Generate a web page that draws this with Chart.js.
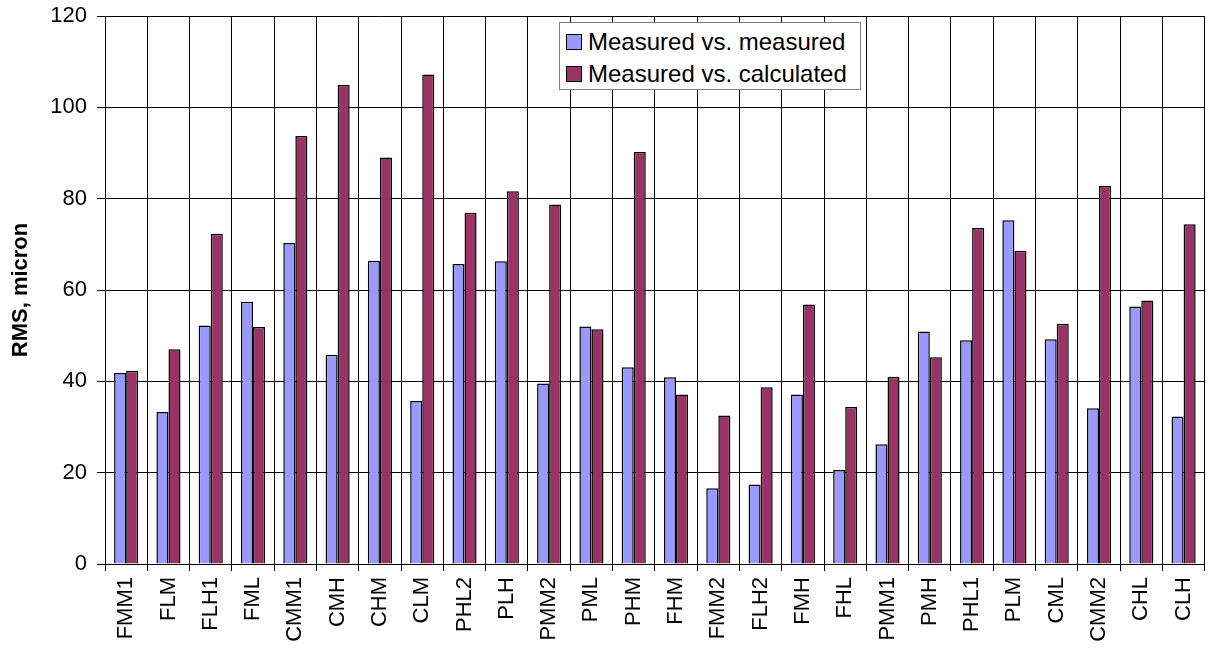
<!DOCTYPE html>
<html>
<head>
<meta charset="utf-8">
<script src="https://cdn.jsdelivr.net/npm/chart.js@4/dist/chart.umd.min.js"></script>
<style>
  html, body { margin: 0; padding: 0; background: #fff; }
  #wrap { position: relative; width: 1216px; height: 656px; }
  #legend {
    position: absolute; left: 559px; top: 22px; width: 302px; height: 68px;
    box-sizing: border-box; border: 1px solid #808080; background: #fff;
    font-family: "Liberation Sans", Arial, sans-serif; font-size: 24px; color: #000;
    padding: 3px 0 0 6px;
  }
  #legend div { height: 32px; line-height: 32px; white-space: nowrap; }
  #legend span.sw {
    display: inline-block; width: 14px; height: 14px; border: 1px solid #000;
    margin-right: 6px; vertical-align: 0px;
  }
</style>
</head>
<body>
<div id="wrap">
  <canvas id="rmsChart" width="1216" height="656"></canvas>
  <div id="legend"></div>
</div>
<script>
/* ==========================================
RMS DATA
========================================== */

const categories = [
  "FMM1", "FLM", "FLH1", "FML", "CMM1", "CMH", "CHM", "CLM", "PHL2", "PLH",
  "PMM2", "PML", "PHM", "FHM", "FMM2", "FLH2", "FMH", "FHL", "PMM1", "PMH",
  "PHL1", "PLM", "CML", "CMM2", "CHL", "CLH"
];

const measuredVsMeasured = [
  41.8, 33.3, 52.2, 57.4, 70.3, 45.8, 66.4, 35.7, 65.7, 66.3,
  39.5, 52.0, 43.1, 40.9, 16.6, 17.4, 37.1, 20.6, 26.2, 50.9,
  49.0, 75.3, 49.2, 34.1, 56.4, 32.3
];

const measuredVsCalculated = [
  42.3, 47.0, 72.3, 51.9, 93.7, 104.9, 89.0, 107.2, 76.9, 81.6,
  78.7, 51.4, 90.2, 37.1, 32.5, 38.7, 56.8, 34.4, 41.0, 45.3,
  73.6, 68.6, 52.6, 82.8, 57.7, 74.4
];

const seriesNames = ["Measured vs. measured", "Measured vs. calculated"];
const seriesColors = ["#9999ff", "#993366"];

const yMin = 0;
const yMax = 120;
const yStep = 20;

const font = "'Liberation Sans', Arial, sans-serif";


/* ==========================================
CHART
========================================== */

new Chart(
document.getElementById("rmsChart"),
{
type: "bar",

data: {
labels: categories,

datasets: [
{
label: seriesNames[0],
data: measuredVsMeasured,
backgroundColor: seriesColors[0],
borderColor: "#000",
borderWidth: 1.5,
borderSkipped: "bottom"
},
{
label: seriesNames[1],
data: measuredVsCalculated,
backgroundColor: seriesColors[1],
borderColor: "#000",
borderWidth: 1.5,
borderSkipped: "bottom"
}
]
},

options: {
responsive: false,
animation: false,
categoryPercentage: 0.57,
barPercentage: 1,

layout: {
padding: { top: 16, right: 0, left: 0, bottom: 0 }
},

plugins: {
legend: { display: false },
tooltip: { enabled: false }
},

scales: {
x: {
offset: true,
grid: {
offset: true,
color: "#000",
lineWidth: 1,
tickLength: 7
},
border: { color: "#000" },
ticks: {
color: "#000",
font: { family: font, size: 22 },
maxRotation: 90,
minRotation: 90,
padding: 6,
autoSkip: false
},
afterFit: function (scale) { scale.height = 92; }
},

y: {
min: yMin,
max: yMax,
grid: {
color: "#000",
lineWidth: 1,
tickLength: 8
},
border: { color: "#000" },
ticks: {
stepSize: yStep,
color: "#000",
padding: 10,
font: { family: font, size: 22 }
},
title: {
display: true,
text: "RMS, micron",
color: "#000",
padding: { top: 8, bottom: 0 },
font: { family: font, size: 22, weight: "bold" }
},
afterFit: function (scale) {
scale.width = 105;
scale.paddingTop = 0;
}
}
}
}
}
);


/* ==========================================
LEGEND
========================================== */

const legendBox = document.getElementById("legend");
seriesNames.forEach(function (name, i) {
  const row = document.createElement("div");
  const sw = document.createElement("span");
  sw.className = "sw";
  sw.style.background = seriesColors[i];
  row.appendChild(sw);
  row.appendChild(document.createTextNode(name));
  legendBox.appendChild(row);
});
</script>
</body>
</html>
